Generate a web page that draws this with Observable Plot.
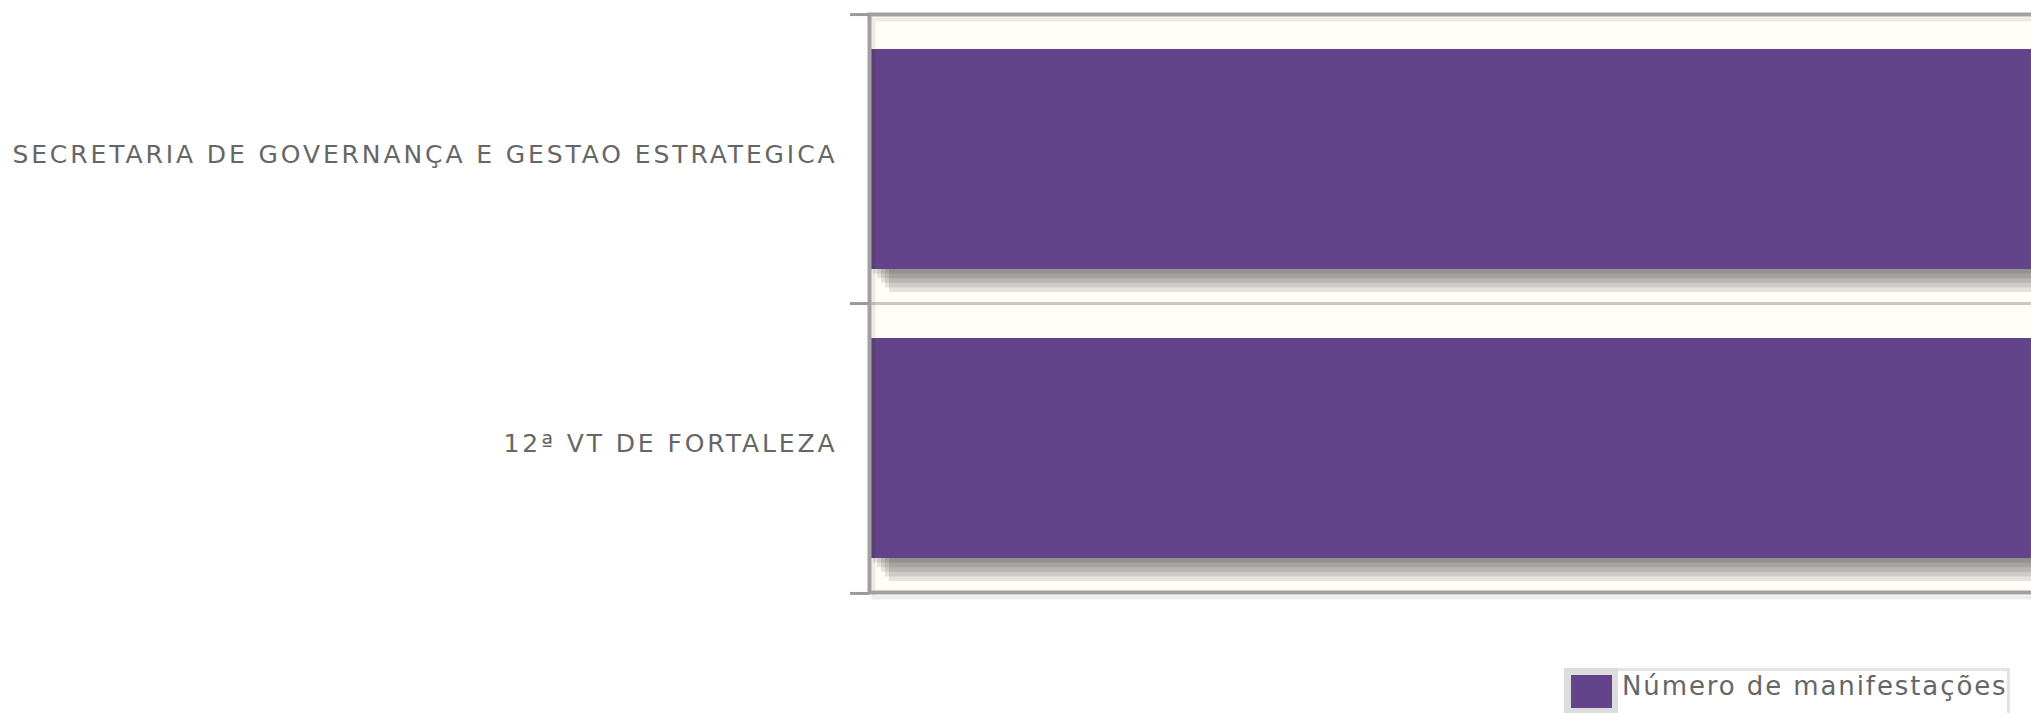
<!DOCTYPE html>
<html>
<head>
<meta charset="utf-8">
<script src="https://cdn.jsdelivr.net/npm/d3@7"></script>
<script src="https://cdn.jsdelivr.net/npm/@observablehq/plot@0.6"></script>
<style>
  html, body { margin: 0; padding: 0; background: #ffffff; overflow: hidden; width: 2031px; height: 713px; }
  #chart { position: absolute; left: 0; top: 0; }
  #chart svg g.labels text { letter-spacing: 2.9px; }
  #legend { position: absolute; left: 1564px; top: 668px; width: 446px; height: 50px;
            border-top: 3px solid #e4e4e4; border-right: 3px solid #e4e4e4; box-sizing: border-box; }
  #legend .sw { position: absolute; left: 0; top: -3px; width: 54px; height: 48px; background: #dcdcdc; }
  #legend .sw div { position: absolute; left: 7px; top: 7px; width: 41px; height: 33px; background: #634389; }
  #legend .tx { position: absolute; left: 58px; top: 0px; font-family: "DejaVu Sans", sans-serif;
                font-size: 26px; color: #666; letter-spacing: 1.9px; white-space: nowrap; }
</style>
</head>
<body>
<div id="chart"></div>
<div id="legend"><div class="sw"><div></div></div><div class="tx"></div></div>
<script>
const categories = ["SECRETARIA DE GOVERNANÇA E GESTAO ESTRATEGICA", "12ª VT DE FORTALEZA"];
const values = [1, 1];
const seriesName = "Número de manifestações";

const data = categories.map((c, i) => ({category: c, value: values[i]}));

const width = 2031, height = 650;
const marginTop = 14, marginBottom = 58, marginLeft = 869, marginRight = -12;
const paddingInner = 0.24, paddingOuter = 0.117;
const step = (height - marginTop - marginBottom) / (categories.length - paddingInner + 2 * paddingOuter);

const barColor = "#634389";
const shadowLayers = [1, 2, 3, 4, 5];

const chart = Plot.plot({
  width, height, marginTop, marginBottom, marginLeft, marginRight,
  style: {background: "transparent", fontFamily: "DejaVu Sans, sans-serif"},
  x: {type: "linear", domain: [0, 1], axis: null},
  y: {domain: categories, paddingInner, paddingOuter, label: null},
  marks: [
    Plot.frame({fill: "#fffdf6", stroke: null}),
    // separators at inner band boundaries
    Plot.ruleY(categories.slice(1), {y: d => d, dy: -step / 2, stroke: "#c8c8c8", strokeWidth: 3}),
    // bar shadows
    ...shadowLayers.map(k => Plot.barX(data, {
      x: "value", y: "category", fill: "#000", fillOpacity: 0.1, dx: 4 * k, dy: 4.6 * k
    })),
    Plot.barX(data, {x: "value", y: "category", fill: barColor}),
    // frame shadow and frame
    Plot.frame({stroke: "#000", strokeOpacity: 0.07, strokeWidth: 4, dx: 4, dy: 5}),
    Plot.frame({stroke: "#a0a0a0", strokeWidth: 4}),
    // boundary ticks on the left
    Plot.axisY(categories, {text: null, tickSize: 19, dy: -step / 2, stroke: "#999", strokeWidth: 3, label: null}),
    Plot.axisY(categories.slice(-1), {text: null, tickSize: 19, dy: step / 2, stroke: "#999", strokeWidth: 3, label: null}),
    // labels
    Plot.axisY({tickSize: 0, tickPadding: 32, fontSize: 25, fill: "#666", dy: -5, label: null})
  ]
});
document.getElementById("chart").appendChild(chart);
chart.querySelectorAll('[aria-label="y-axis tick label"]').forEach(g => g.classList.add("labels"));
document.querySelector("#legend .tx").textContent = seriesName;
</script>
</body>
</html>
